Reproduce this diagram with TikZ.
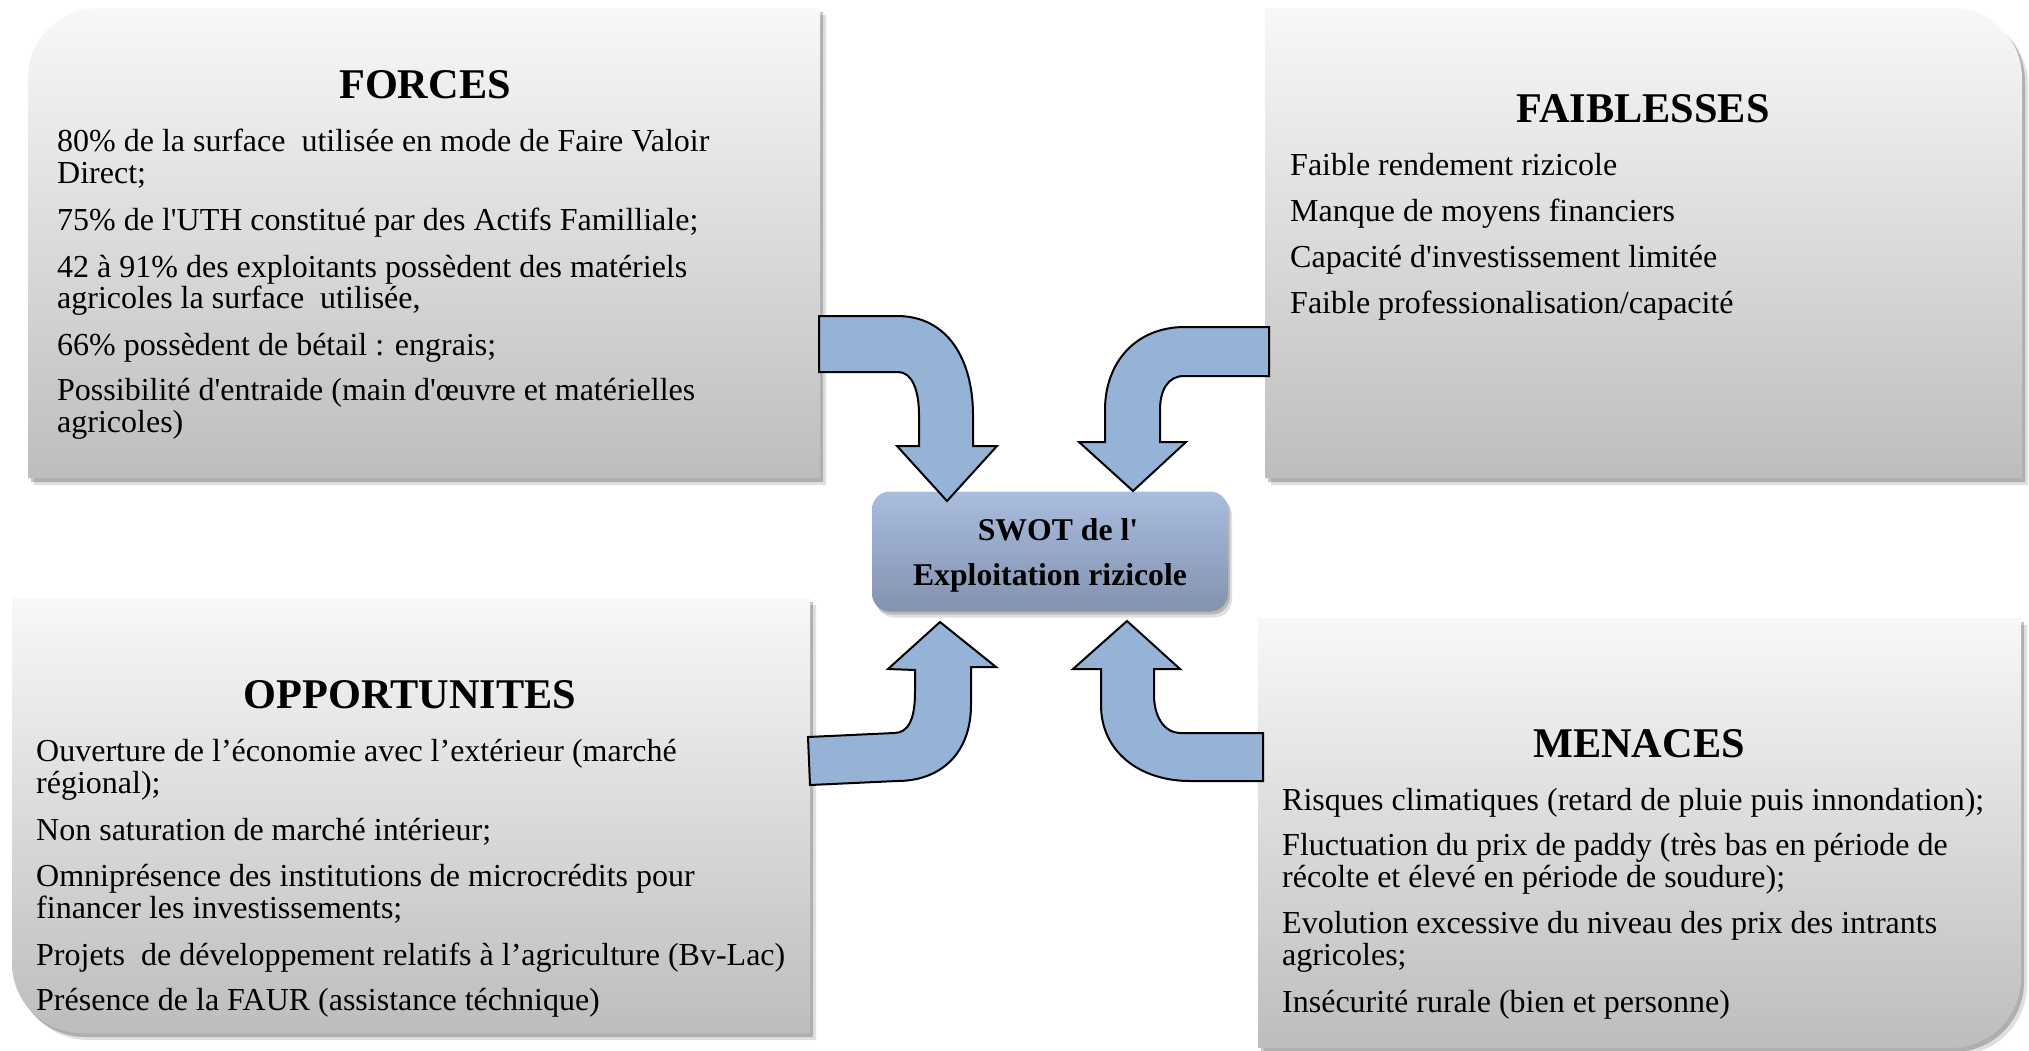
\documentclass[tikz,border=0pt]{standalone}
\usepackage{fontspec}
\setmainfont[Ligatures=TeXOff]{Liberation Serif}
\definecolor{arrowfill}{HTML}{95B3D7}
\definecolor{boxtop}{HTML}{F8F8F8}
\definecolor{boxbot}{HTML}{BDBDBD}
\definecolor{ctop}{HTML}{A9BDDF}
\definecolor{cbot}{HTML}{8392AF}
\begin{document}
\begin{tikzpicture}[x=1pt,y=-1pt,
  panel/.style={top color=boxtop, bottom color=boxbot,
    preaction={fill=black, opacity=0.12, transform canvas={shift={(6pt,-7pt)}}},
    preaction={fill=black, opacity=0.22, transform canvas={shift={(3pt,-4pt)}}}},
  bentarrow/.style={fill=arrowfill, draw=black, line width=2pt, line join=miter},
  paneltitle/.style={font=\bfseries\fontsize{42.3}{48}\selectfont, anchor=base, inner sep=0pt},
  bodyline/.style={font=\fontsize{32}{34}\selectfont, anchor=base west, inner sep=0pt},
  centretext/.style={font=\bfseries\fontsize{31.7}{36}\selectfont, anchor=base, inner sep=0pt}]
\useasboundingbox (0,0) rectangle (2029,1050);

% panels
\path[panel] (28,240) [rounded corners=70pt] -- (28,8) -- (400,8) [sharp corners] -- (820,8) -- (820,478) -- (28,478) -- cycle;
\path[panel] (1600,8) [rounded corners=70pt] -- (2022,8) -- (2022,240) [sharp corners] -- (2022,478) -- (1265,478) -- (1265,8) -- cycle;
\path[panel] (12,800) [rounded corners=70pt] -- (12,1033) -- (400,1033) [sharp corners] -- (810,1033) -- (810,598) -- (12,598) -- cycle;
\path[panel] (2021,800) [rounded corners=70pt] -- (2021,1048) -- (1600,1048) [sharp corners] -- (1258,1048) -- (1258,618) -- (2021,618) -- cycle;

% centre node
\node[minimum width=356pt, minimum height=120pt, rounded corners=18pt,
  top color=ctop, bottom color=cbot, inner sep=0pt,
  preaction={fill=black, opacity=0.12, transform canvas={shift={(4pt,-6pt)}}},
  preaction={fill=black, opacity=0.18, transform canvas={shift={(2pt,-3pt)}}}] (centre) at (1050,551.5) {};
\node[centretext] (c1) at (1058,540) {SWOT de l'};
\node[centretext] (c2) at (1050,585) {Exploitation rizicole};

% bent arrows
\path[bentarrow] (819,316) -- (897,316) .. controls (948,316) and (973,360) .. (973,415) -- (973,446) -- (997,446) -- (947,501) -- (897,446) -- (919,446) -- (919,415) .. controls (919,390) and (912,372) .. (898,372) -- (819,372) -- cycle;
\path[bentarrow] (1269,327) -- (1185,327) .. controls (1136,327) and (1105,362) .. (1105,410) -- (1105,442) -- (1079,442) -- (1133,491) -- (1186,442) -- (1160,442) -- (1160,410) .. controls (1160,390) and (1168,376) .. (1184,376) -- (1269,376) -- cycle;
\path[bentarrow] (808,737) -- (894,733) .. controls (908,733) and (915,720) .. (915,692) -- (915,670) -- (888,669) -- (940,622) -- (996,667) -- (971,667) -- (971,705) .. controls (971,752) and (942,781) .. (897,781) -- (810,785) -- cycle;
\path[bentarrow] (1263,733) -- (1181,733) .. controls (1163,733) and (1154,715) .. (1154,695) -- (1154,669) -- (1180,669) -- (1127,621) -- (1073,669) -- (1101,669) -- (1101,705) .. controls (1101,752) and (1140,781) .. (1190,781) -- (1263,781) -- cycle;

% FORCES
\node[paneltitle] (tF) at (425,98) {FORCES};
\node[bodyline] (f1) at (57,151) {80\% de la surface~ utilisée en mode de Faire Valoir};
\node[bodyline] (f2) at (57,183) {Direct;};
\node[bodyline] (f3) at (57,230) {75\% de l'UTH constitué par des Actifs Familliale;};
\node[bodyline] (f4) at (57,277) {42 à 91\% des exploitants possèdent des matériels};
\node[bodyline] (f5) at (57,308) {agricoles la surface~ utilisée,};
\node[bodyline] (f6) at (57,355) {66\% possèdent de bétail : engrais;};
\node[bodyline] (f7) at (57,400) {Possibilité d'entraide (main d'œuvre et matérielles};
\node[bodyline] (f8) at (57,432) {agricoles)};

% FAIBLESSES
\node[paneltitle] (tW) at (1643,122) {FAIBLESSES};
\node[bodyline] (w1) at (1290,175) {Faible rendement rizicole};
\node[bodyline] (w2) at (1290,221) {Manque de moyens financiers};
\node[bodyline] (w3) at (1290,267) {Capacité d'investissement limitée};
\node[bodyline] (w4) at (1290,313) {Faible professionalisation/capacité};

% OPPORTUNITES
\node[paneltitle] (tO) at (410,708) {OPPORTUNITES};
\node[bodyline] (o1) at (36,761) {Ouverture de l’économie avec l’extérieur (marché};
\node[bodyline] (o2) at (36,793) {régional);};
\node[bodyline] (o3) at (36,840) {Non saturation de marché intérieur;};
\node[bodyline] (o4) at (36,886) {Omniprésence des institutions de microcrédits pour};
\node[bodyline] (o5) at (36,918) {financer les investissements;};
\node[bodyline] (o6) at (36,965) {Projets~ de développement relatifs à l’agriculture (Bv-Lac)};
\node[bodyline] (o7) at (36,1010) {Présence de la FAUR (assistance téchnique)};

% MENACES
\node[paneltitle] (tT) at (1639,757) {MENACES};
\node[bodyline] (m1) at (1282,810) {Risques climatiques (retard de pluie puis innondation);};
\node[bodyline] (m2) at (1282,855) {Fluctuation du prix de paddy (très bas en période de};
\node[bodyline] (m3) at (1282,887) {récolte et élevé en période de soudure);};
\node[bodyline] (m4) at (1282,933) {Evolution excessive du niveau des prix des intrants};
\node[bodyline] (m5) at (1282,965) {agricoles;};
\node[bodyline] (m6) at (1282,1012) {Insécurité rurale (bien et personne)};
\end{tikzpicture}
\end{document}
